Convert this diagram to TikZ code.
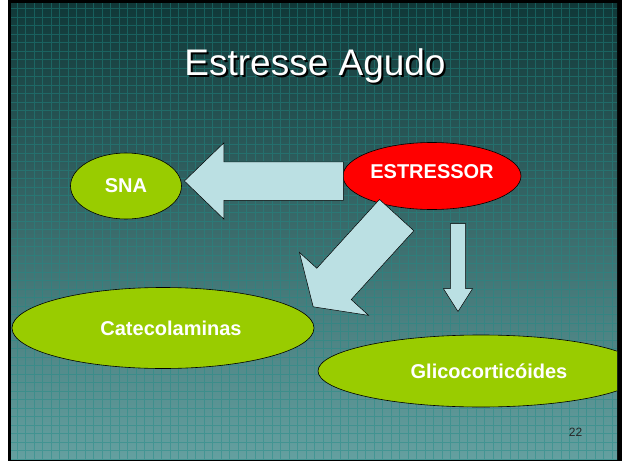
\documentclass[tikz,border=0pt]{standalone}
\usepackage{fontspec}
\setmainfont{Liberation Sans}
\usetikzlibrary{shapes.geometric,shapes.arrows}
\definecolor{slidetop}{RGB}{16,56,56}
\definecolor{slidebot}{RGB}{100,160,160}
\definecolor{gridteal}{RGB}{30,140,135}
\definecolor{leafgreen}{RGB}{153,204,0}
\definecolor{alarmred}{RGB}{255,0,0}
\definecolor{paleblue}{RGB}{187,224,227}

\begin{document}
\begin{tikzpicture}[x=1pt,y=-1pt,
        every node/.style={font=\bfseries\fontsize{20}{22}\selectfont,text=white},
        organ/.style={draw,shape=ellipse,fill=leafgreen,line width=0.6pt,inner sep=0pt},
        stressor/.style={organ,fill=alarmred},
        blockarrow/.style={draw,shape=single arrow,fill=paleblue,line width=0.5pt,
          inner xsep=0pt,single arrow head indent=0pt}]
        \useasboundingbox (0,0) rectangle (622,461);
        \fill[white] (0,0) rectangle (622,461);
        \fill[black] (7.5,0) rectangle (622,461);
        \begin{scope}
          \clip (11,3) rectangle (617,459);
          \shade[top color=slidetop,bottom color=slidebot] (11,3) rectangle (617,459);
          \draw[gridteal,opacity=0.45,line width=0.6pt,step=8.5pt] (11,459) grid (617,3);
          % title
          \node[font=\fontsize{37}{40}\selectfont,text=black,anchor=base] (titleshadow) at (317,77) {Estresse Agudo};
          \node[font=\fontsize{37}{40}\selectfont,anchor=base] (title) at (315,75) {Estresse Agudo};
          % ellipses
          \node[organ,minimum width=111pt,minimum height=66pt] (sna) at (126,186) {SNA};
          \node[stressor,minimum width=178pt,minimum height=67pt,
            label={[yshift=4pt]center:ESTRESSOR}] (estr) at (432,176) {};
          \node[organ,minimum width=302pt,minimum height=81pt,
            label={[xshift=8pt]center:Catecolaminas}] (cat) at (163,328) {};
          \node[organ,minimum width=326pt,minimum height=72pt,
            label={[xshift=8pt]center:Glicocorticóides}] (gli) at (481,371) {};
          % block arrows
          \node[blockarrow,inner ysep=19pt,single arrow head extend=19pt,
            single arrow tip angle=88,minimum height=159pt,rotate=180,anchor=tip] (tosna) at (184,181) {};
          \node[blockarrow,inner ysep=23pt,single arrow head extend=23.5pt,
            single arrow tip angle=113,minimum height=124pt,rotate=227.7,anchor=tip] (tocat) at (313,307) {};
          \node[blockarrow,inner ysep=7.3pt,single arrow head extend=7pt,
            single arrow tip angle=65,minimum height=88pt,rotate=-90,anchor=tip] (togli) at (458,312) {};
          % slide number
          \node[font=\fontsize{12}{14}\selectfont,text=black!85] (pagenum) at (575.5,432.5) {22};
        \end{scope}
  \end{tikzpicture}
\end{document}
